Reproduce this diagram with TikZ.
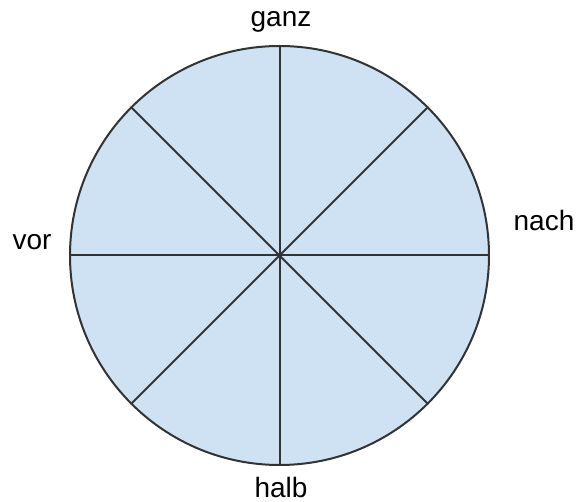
\documentclass[tikz,border=0pt]{standalone}
\usepackage{fontspec}
\setmainfont{Liberation Sans}
\definecolor{wedgefill}{HTML}{CFE2F3}
\definecolor{wedgeline}{HTML}{333333}
\begin{document}
\begin{tikzpicture}[x=1pt,y=-1pt,
  lbl/.style={inner sep=0pt,font=\fontsize{28}{32}\selectfont,text=black},
  spoke/.style={draw=wedgeline,line width=2pt}]
\useasboundingbox (0,0) rectangle (582,502);
\coordinate (c) at (279.5,255.5);
\node[circle,draw=wedgeline,line width=2pt,fill=wedgefill,minimum size=419pt,inner sep=0pt] (wheel) at (c) {};
\foreach \a in {0,45,90,135,180,225,270,315}{
  \draw[spoke] (c) -- (wheel.\a);
}
\node[lbl] (ganz) at (281,22) {ganz};
\node[lbl] (vor) at (32,242) {vor};
\node[lbl] (nach) at (544,220) {nach};
\node[lbl] (halb) at (281,487) {halb};
\end{tikzpicture}
\end{document}
